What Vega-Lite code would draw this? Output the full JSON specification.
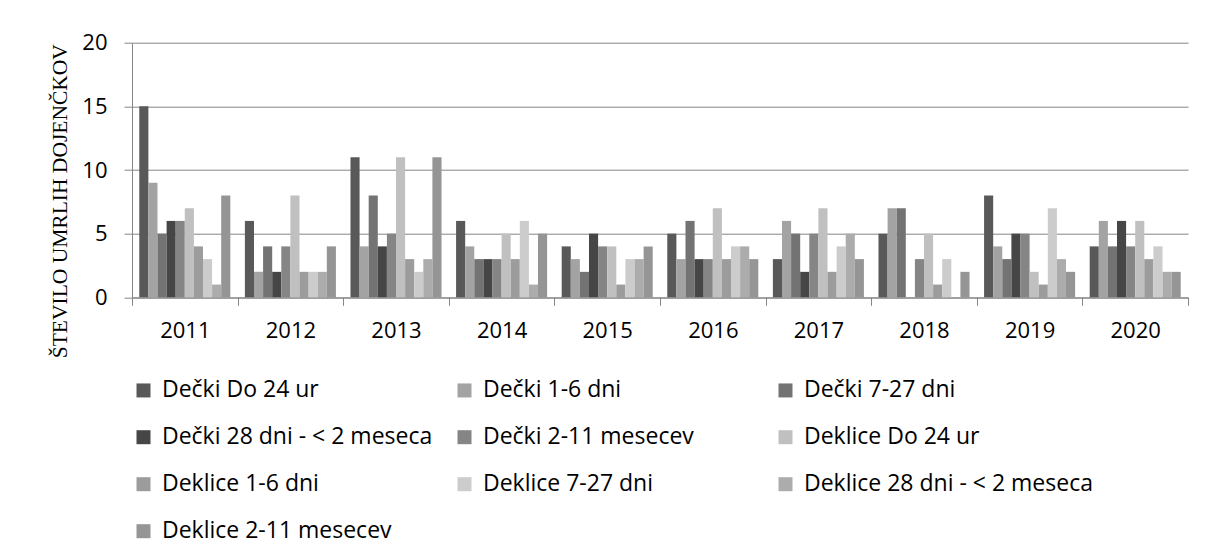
{
  "$schema": "https://vega.github.io/schema/vega-lite/v6.json",
  "autosize": {"type": "none"},
  "width": 1056,
  "height": 254.6,
  "padding": {"left": 132, "top": 42.7, "right": 20, "bottom": 262.7},
  "background": "white",
  "config": {"view": {"stroke": null}, "font": "Open Sans"},
  "data": {"values": [
    {"leto":"2011","skupina":"Dečki Do 24 ur","stevilo":15},
    {"leto":"2011","skupina":"Dečki 1-6 dni","stevilo":9},
    {"leto":"2011","skupina":"Dečki 7-27 dni","stevilo":5},
    {"leto":"2011","skupina":"Dečki 28 dni - < 2 meseca","stevilo":6},
    {"leto":"2011","skupina":"Dečki 2-11 mesecev","stevilo":6},
    {"leto":"2011","skupina":"Deklice Do 24 ur","stevilo":7},
    {"leto":"2011","skupina":"Deklice 1-6 dni","stevilo":4},
    {"leto":"2011","skupina":"Deklice 7-27 dni","stevilo":3},
    {"leto":"2011","skupina":"Deklice 28 dni - < 2 meseca","stevilo":1},
    {"leto":"2011","skupina":"Deklice 2-11 mesecev","stevilo":8},
    {"leto":"2012","skupina":"Dečki Do 24 ur","stevilo":6},
    {"leto":"2012","skupina":"Dečki 1-6 dni","stevilo":2},
    {"leto":"2012","skupina":"Dečki 7-27 dni","stevilo":4},
    {"leto":"2012","skupina":"Dečki 28 dni - < 2 meseca","stevilo":2},
    {"leto":"2012","skupina":"Dečki 2-11 mesecev","stevilo":4},
    {"leto":"2012","skupina":"Deklice Do 24 ur","stevilo":8},
    {"leto":"2012","skupina":"Deklice 1-6 dni","stevilo":2},
    {"leto":"2012","skupina":"Deklice 7-27 dni","stevilo":2},
    {"leto":"2012","skupina":"Deklice 28 dni - < 2 meseca","stevilo":2},
    {"leto":"2012","skupina":"Deklice 2-11 mesecev","stevilo":4},
    {"leto":"2013","skupina":"Dečki Do 24 ur","stevilo":11},
    {"leto":"2013","skupina":"Dečki 1-6 dni","stevilo":4},
    {"leto":"2013","skupina":"Dečki 7-27 dni","stevilo":8},
    {"leto":"2013","skupina":"Dečki 28 dni - < 2 meseca","stevilo":4},
    {"leto":"2013","skupina":"Dečki 2-11 mesecev","stevilo":5},
    {"leto":"2013","skupina":"Deklice Do 24 ur","stevilo":11},
    {"leto":"2013","skupina":"Deklice 1-6 dni","stevilo":3},
    {"leto":"2013","skupina":"Deklice 7-27 dni","stevilo":2},
    {"leto":"2013","skupina":"Deklice 28 dni - < 2 meseca","stevilo":3},
    {"leto":"2013","skupina":"Deklice 2-11 mesecev","stevilo":11},
    {"leto":"2014","skupina":"Dečki Do 24 ur","stevilo":6},
    {"leto":"2014","skupina":"Dečki 1-6 dni","stevilo":4},
    {"leto":"2014","skupina":"Dečki 7-27 dni","stevilo":3},
    {"leto":"2014","skupina":"Dečki 28 dni - < 2 meseca","stevilo":3},
    {"leto":"2014","skupina":"Dečki 2-11 mesecev","stevilo":3},
    {"leto":"2014","skupina":"Deklice Do 24 ur","stevilo":5},
    {"leto":"2014","skupina":"Deklice 1-6 dni","stevilo":3},
    {"leto":"2014","skupina":"Deklice 7-27 dni","stevilo":6},
    {"leto":"2014","skupina":"Deklice 28 dni - < 2 meseca","stevilo":1},
    {"leto":"2014","skupina":"Deklice 2-11 mesecev","stevilo":5},
    {"leto":"2015","skupina":"Dečki Do 24 ur","stevilo":4},
    {"leto":"2015","skupina":"Dečki 1-6 dni","stevilo":3},
    {"leto":"2015","skupina":"Dečki 7-27 dni","stevilo":2},
    {"leto":"2015","skupina":"Dečki 28 dni - < 2 meseca","stevilo":5},
    {"leto":"2015","skupina":"Dečki 2-11 mesecev","stevilo":4},
    {"leto":"2015","skupina":"Deklice Do 24 ur","stevilo":4},
    {"leto":"2015","skupina":"Deklice 1-6 dni","stevilo":1},
    {"leto":"2015","skupina":"Deklice 7-27 dni","stevilo":3},
    {"leto":"2015","skupina":"Deklice 28 dni - < 2 meseca","stevilo":3},
    {"leto":"2015","skupina":"Deklice 2-11 mesecev","stevilo":4},
    {"leto":"2016","skupina":"Dečki Do 24 ur","stevilo":5},
    {"leto":"2016","skupina":"Dečki 1-6 dni","stevilo":3},
    {"leto":"2016","skupina":"Dečki 7-27 dni","stevilo":6},
    {"leto":"2016","skupina":"Dečki 28 dni - < 2 meseca","stevilo":3},
    {"leto":"2016","skupina":"Dečki 2-11 mesecev","stevilo":3},
    {"leto":"2016","skupina":"Deklice Do 24 ur","stevilo":7},
    {"leto":"2016","skupina":"Deklice 1-6 dni","stevilo":3},
    {"leto":"2016","skupina":"Deklice 7-27 dni","stevilo":4},
    {"leto":"2016","skupina":"Deklice 28 dni - < 2 meseca","stevilo":4},
    {"leto":"2016","skupina":"Deklice 2-11 mesecev","stevilo":3},
    {"leto":"2017","skupina":"Dečki Do 24 ur","stevilo":3},
    {"leto":"2017","skupina":"Dečki 1-6 dni","stevilo":6},
    {"leto":"2017","skupina":"Dečki 7-27 dni","stevilo":5},
    {"leto":"2017","skupina":"Dečki 28 dni - < 2 meseca","stevilo":2},
    {"leto":"2017","skupina":"Dečki 2-11 mesecev","stevilo":5},
    {"leto":"2017","skupina":"Deklice Do 24 ur","stevilo":7},
    {"leto":"2017","skupina":"Deklice 1-6 dni","stevilo":2},
    {"leto":"2017","skupina":"Deklice 7-27 dni","stevilo":4},
    {"leto":"2017","skupina":"Deklice 28 dni - < 2 meseca","stevilo":5},
    {"leto":"2017","skupina":"Deklice 2-11 mesecev","stevilo":3},
    {"leto":"2018","skupina":"Dečki Do 24 ur","stevilo":5},
    {"leto":"2018","skupina":"Dečki 1-6 dni","stevilo":7},
    {"leto":"2018","skupina":"Dečki 7-27 dni","stevilo":7},
    {"leto":"2018","skupina":"Dečki 28 dni - < 2 meseca","stevilo":0},
    {"leto":"2018","skupina":"Dečki 2-11 mesecev","stevilo":3},
    {"leto":"2018","skupina":"Deklice Do 24 ur","stevilo":5},
    {"leto":"2018","skupina":"Deklice 1-6 dni","stevilo":1},
    {"leto":"2018","skupina":"Deklice 7-27 dni","stevilo":3},
    {"leto":"2018","skupina":"Deklice 28 dni - < 2 meseca","stevilo":0},
    {"leto":"2018","skupina":"Deklice 2-11 mesecev","stevilo":2},
    {"leto":"2019","skupina":"Dečki Do 24 ur","stevilo":8},
    {"leto":"2019","skupina":"Dečki 1-6 dni","stevilo":4},
    {"leto":"2019","skupina":"Dečki 7-27 dni","stevilo":3},
    {"leto":"2019","skupina":"Dečki 28 dni - < 2 meseca","stevilo":5},
    {"leto":"2019","skupina":"Dečki 2-11 mesecev","stevilo":5},
    {"leto":"2019","skupina":"Deklice Do 24 ur","stevilo":2},
    {"leto":"2019","skupina":"Deklice 1-6 dni","stevilo":1},
    {"leto":"2019","skupina":"Deklice 7-27 dni","stevilo":7},
    {"leto":"2019","skupina":"Deklice 28 dni - < 2 meseca","stevilo":3},
    {"leto":"2019","skupina":"Deklice 2-11 mesecev","stevilo":2},
    {"leto":"2020","skupina":"Dečki Do 24 ur","stevilo":4},
    {"leto":"2020","skupina":"Dečki 1-6 dni","stevilo":6},
    {"leto":"2020","skupina":"Dečki 7-27 dni","stevilo":4},
    {"leto":"2020","skupina":"Dečki 28 dni - < 2 meseca","stevilo":6},
    {"leto":"2020","skupina":"Dečki 2-11 mesecev","stevilo":4},
    {"leto":"2020","skupina":"Deklice Do 24 ur","stevilo":6},
    {"leto":"2020","skupina":"Deklice 1-6 dni","stevilo":3},
    {"leto":"2020","skupina":"Deklice 7-27 dni","stevilo":4},
    {"leto":"2020","skupina":"Deklice 28 dni - < 2 meseca","stevilo":2},
    {"leto":"2020","skupina":"Deklice 2-11 mesecev","stevilo":2}
  ]},
  "mark": {"type": "bar"},
  "encoding": {
    "x": {
      "field": "leto", "type": "nominal",
      "scale": {"paddingInner": 0, "paddingOuter": 0},
      "axis": {
        "title": null, "labelAngle": 0, "tickBand": "extent", "grid": false,
        "domainColor": "#868686", "tickColor": "#868686", "tickSize": 8,
        "labelFontSize": 22, "labelFont": "Open Sans", "labelColor": "#000000", "labelPadding": 15
      }
    },
    "xOffset": {
      "field": "skupina", "type": "nominal",
      "sort": ["Dečki Do 24 ur","Dečki 1-6 dni","Dečki 7-27 dni","Dečki 28 dni - < 2 meseca","Dečki 2-11 mesecev","Deklice Do 24 ur","Deklice 1-6 dni","Deklice 7-27 dni","Deklice 28 dni - < 2 meseca","Deklice 2-11 mesecev"],
      "scale": {"paddingInner": 0, "paddingOuter": 0.8}
    },
    "y": {
      "field": "stevilo", "type": "quantitative",
      "scale": {"domain": [0, 20]},
      "axis": {
        "title": "ŠTEVILO UMRLIH DOJENČKOV", "values": [0, 5, 10, 15, 20],
        "grid": true, "gridColor": "#868686", "domainColor": "#868686", "tickColor": "#868686", "tickSize": 8,
        "labelFontSize": 22, "labelFont": "Open Sans", "labelColor": "#000000", "labelPadding": 17,
        "titleFont": "Liberation Serif", "titleFontSize": 21.5, "titleFontWeight": "normal", "titleColor": "#000000",
        "titleX": -72, "titleY": 158, "titleAngle": 270, "titleBaseline": "middle", "titleAlign": "center"
      }
    },
    "color": {
      "field": "skupina", "type": "nominal",
      "scale": {
        "domain": ["Dečki Do 24 ur","Dečki 1-6 dni","Dečki 7-27 dni","Dečki 28 dni - < 2 meseca","Dečki 2-11 mesecev","Deklice Do 24 ur","Deklice 1-6 dni","Deklice 7-27 dni","Deklice 28 dni - < 2 meseca","Deklice 2-11 mesecev"],
        "range": ["#595959","#a3a3a3","#737373","#464646","#858585","#c0c0c0","#9c9c9c","#cccccc","#acacac","#959595"]
      },
      "legend": {
        "title": null, "orient": "none", "legendX": 0, "legendY": 336, "direction": "horizontal",
        "columns": 3, "gridAlign": "all", "columnPadding": 2, "rowPadding": 23,
        "symbolType": "square", "symbolSize": 196, "symbolStrokeWidth": 0,
        "labelFontSize": 23, "labelFont": "Open Sans", "labelColor": "#000000", "labelOffset": 7, "labelLimit": 400, "padding": 0
      }
    }
  }
}
